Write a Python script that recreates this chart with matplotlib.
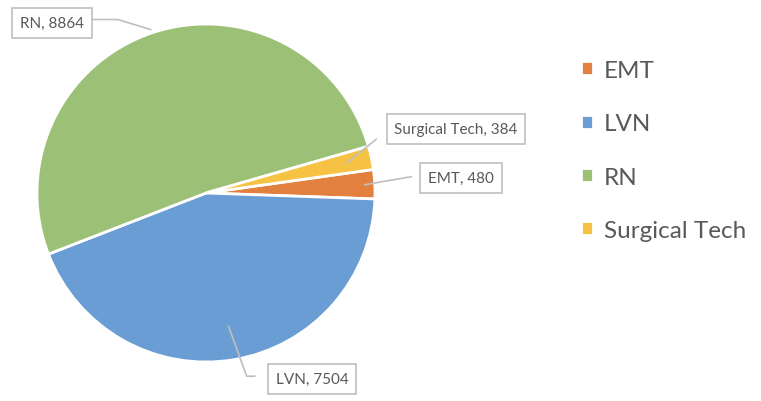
import numpy as np
import matplotlib
matplotlib.use("Agg")
import matplotlib.pyplot as plt

roles = ["EMT", "LVN", "RN", "Surgical Tech"]
counts = [480, 7504, 8864, 384]
colors = ["#E1803F", "#6A9DD3", "#9CC176", "#F6C244"]

plt.rcParams["font.family"] = ["Lato", "DejaVu Sans"]

W, H = 761, 402
fig = plt.figure(figsize=(W / 100, H / 100), dpi=100)

# pie centre / radius in pixels
cx, cy, r = 206, 194, 169
ax = fig.add_axes([(cx - r) / W, (H - cy - r) / H, 2 * r / W, 2 * r / H])
wedges, _ = ax.pie(counts, colors=colors, startangle=8, counterclock=False,
                   radius=1, wedgeprops=dict(edgecolor="white", linewidth=2))
ax.set_xlim(-1, 1)
ax.set_ylim(-1, 1)
ax.set_aspect("equal")

# label box centre (figure px from top-left), anchor radius, connection, gap, attach point
label_pos = {
    "RN": (52, 24, 1.02, "angle,angleA=0,angleB=-17,rad=0", 0, (1, 0.75)),
    "Surgical Tech": (456, 130, 0.85, "arc3", 9, (0, 0.8)),
    "EMT": (461, 179, 0.94, "arc3", 6, (0, 0.8)),
    "LVN": (312, 380, 0.80, "angle,angleA=0,angleB=110,rad=0", 9, (0, 0.7)),
}

for w, name, n in zip(wedges, roles, counts):
    mid = np.deg2rad((w.theta1 + w.theta2) / 2)
    tx, ty, rr, conn, shr, rel = label_pos[name]
    ax.annotate(f"{name}, {n}", xy=(rr * np.cos(mid), rr * np.sin(mid)),
                xycoords="data", xytext=(tx, H - ty), textcoords="figure pixels",
                ha="center", va="center", fontsize=11, color="#595959",
                bbox=dict(boxstyle="square,pad=0.5", fc="white", ec="#BFBFBF", lw=1.2),
                arrowprops=dict(arrowstyle="-", color="#BFBFBF", lw=1.2, relpos=rel,
                                connectionstyle=conn, shrinkA=shr, shrinkB=0))

fig.legend(wedges, roles, loc="upper left", bbox_to_anchor=(559 / W, 1 - 39 / H),
           frameon=False, fontsize=17.5, labelcolor="#595959",
           handlelength=0.5, handleheight=0.5, handletextpad=0.45,
           labelspacing=1.33)

fig.savefig("out.png", dpi=100, facecolor="white")
